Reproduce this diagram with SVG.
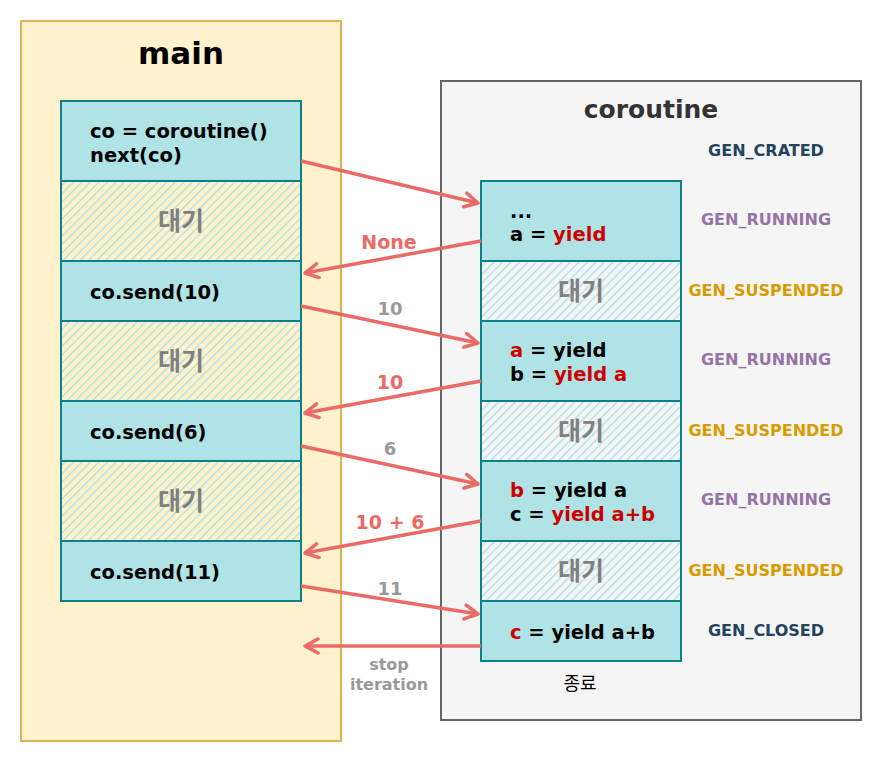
<svg xmlns="http://www.w3.org/2000/svg" width="884" height="762" viewBox="0 0 884 762">
<style>
text{font-family:"DejaVu Sans","Noto Sans CJK KR",sans-serif;font-weight:bold}
.cell{fill:#b0e3e6;stroke:#0e8088;stroke-width:2}
.waitL{fill:url(#hatchL);stroke:#0e8088;stroke-width:2}
.waitR{fill:url(#hatchR);stroke:#0e8088;stroke-width:2}
.code{font-size:19.5px;fill:#000}
.red{fill:#cc0000}
.wait{font-size:25px;fill:#808080;text-anchor:middle;font-family:"Noto Sans CJK KR",sans-serif}
.st{font-size:16px;text-anchor:middle}
.run{fill:#9673a6}.sus{fill:#d79b00}.dark{fill:#23445d}
.arr{stroke:#ea6b66;stroke-width:3.5;fill:none;marker-end:url(#ah)}
.lblr{font-size:19px;fill:#ea6b66;text-anchor:middle}
.lblg{font-size:18px;fill:#999999;text-anchor:middle}
.lbls{font-size:16px;fill:#999999;text-anchor:middle}
</style>
<defs>
<pattern id="hatchL" width="6" height="6" patternUnits="userSpaceOnUse" patternTransform="rotate(45)">
<rect width="6" height="6" fill="#fff2cc"/><line x1="0" y1="0" x2="0" y2="6" stroke="#a9dfe3" stroke-width="2.5"/>
</pattern>
<pattern id="hatchR" width="6" height="6" patternUnits="userSpaceOnUse" patternTransform="rotate(45)">
<rect width="6" height="6" fill="#f5f5f5"/><line x1="0" y1="0" x2="0" y2="6" stroke="#a9dfe3" stroke-width="2.5"/>
</pattern>
<marker id="ah" markerWidth="18" markerHeight="18" refX="15" refY="9" orient="auto" markerUnits="userSpaceOnUse">
<path d="M2,2 L15,9 L2,16" fill="none" stroke="#ea6b66" stroke-width="3.5" stroke-linecap="round" stroke-linejoin="round"/>
</marker>
</defs>

<g id="main">
<rect x="21" y="21" width="320" height="720" fill="#fff2cc" stroke="#d6b656" stroke-width="2"/>
<text x="181" y="64" font-size="31" text-anchor="middle" fill="#000">main</text>
</g>
<g id="coroutine">
<rect x="441" y="81" width="420" height="639" fill="#f5f5f5" stroke="#666666" stroke-width="2"/>
<text x="651" y="118" font-size="25" text-anchor="middle" fill="#333333">coroutine</text>
</g>

<g id="m1"><rect class="cell" x="61" y="101" width="240" height="80"/>
<text class="code" x="90" y="138">co = coroutine()</text><text class="code" x="90" y="162">next(co)</text></g>
<g id="mw1"><rect class="waitL" x="61" y="181" width="240" height="80"/><text class="wait" x="181" y="230">대기</text></g>
<g id="m2"><rect class="cell" x="61" y="261" width="240" height="60"/><text class="code" x="90" y="299">co.send(10)</text></g>
<g id="mw2"><rect class="waitL" x="61" y="321" width="240" height="80"/><text class="wait" x="181" y="370">대기</text></g>
<g id="m3"><rect class="cell" x="61" y="401" width="240" height="60"/><text class="code" x="90" y="439">co.send(6)</text></g>
<g id="mw3"><rect class="waitL" x="61" y="461" width="240" height="80"/><text class="wait" x="181" y="510">대기</text></g>
<g id="m4"><rect class="cell" x="61" y="541" width="240" height="60"/><text class="code" x="90" y="579">co.send(11)</text></g>

<g id="c1"><rect class="cell" x="481" y="181" width="200" height="80"/>
<text class="code" x="510" y="218">...</text><text class="code" x="510" y="241">a = <tspan class="red">yield</tspan></text></g>
<g id="cw1"><rect class="waitR" x="481" y="261" width="200" height="60"/><text class="wait" x="581" y="300">대기</text></g>
<g id="c2"><rect class="cell" x="481" y="321" width="200" height="80"/>
<text class="code" x="510" y="357"><tspan class="red">a</tspan> = yield</text><text class="code" x="510" y="381">b = <tspan class="red">yield a</tspan></text></g>
<g id="cw2"><rect class="waitR" x="481" y="401" width="200" height="60"/><text class="wait" x="581" y="440">대기</text></g>
<g id="c3"><rect class="cell" x="481" y="461" width="200" height="80"/>
<text class="code" x="510" y="497"><tspan class="red">b</tspan> = yield a</text><text class="code" x="510" y="521">c = <tspan class="red">yield a+b</tspan></text></g>
<g id="cw3"><rect class="waitR" x="481" y="541" width="200" height="60"/><text class="wait" x="581" y="580">대기</text></g>
<g id="c4"><rect class="cell" x="481" y="601" width="200" height="60"/>
<text class="code" x="510" y="639"><tspan class="red">c</tspan> = yield a+b</text></g>
<g id="end"><text x="580" y="690" text-anchor="middle" fill="#000" style="font-size:18px;font-weight:normal;font-family:'Noto Sans CJK KR',sans-serif">종료</text></g>

<g id="states">
<text class="st dark" x="766" y="156">GEN_CRATED</text>
<text class="st run" x="766" y="225">GEN_RUNNING</text>
<text class="st sus" x="766" y="296">GEN_SUSPENDED</text>
<text class="st run" x="766" y="365">GEN_RUNNING</text>
<text class="st sus" x="766" y="436">GEN_SUSPENDED</text>
<text class="st run" x="766" y="505">GEN_RUNNING</text>
<text class="st sus" x="766" y="576">GEN_SUSPENDED</text>
<text class="st dark" x="766" y="636">GEN_CLOSED</text>
</g>

<g id="connectors">
<path class="arr" d="M301,161 L478,203"/>
<path class="arr" d="M481,241 L305,273"/>
<path class="arr" d="M301,306 L478,343"/>
<path class="arr" d="M481,381 L305,413"/>
<path class="arr" d="M301,446 L478,484"/>
<path class="arr" d="M481,521 L305,553"/>
<path class="arr" d="M301,586 L478,614"/>
<path class="arr" d="M481,646 L305,646"/>
<text class="lblr" x="389" y="249">None</text>
<text class="lblg" x="390" y="315">10</text>
<text class="lblr" x="390" y="389">10</text>
<text class="lblg" x="390" y="455">6</text>
<text class="lblr" x="390" y="529">10 + 6</text>
<text class="lblg" x="390" y="595">11</text>
<text class="lbls" x="389" y="670">stop</text>
<text class="lbls" x="389" y="690">iteration</text>
</g>
</svg>
